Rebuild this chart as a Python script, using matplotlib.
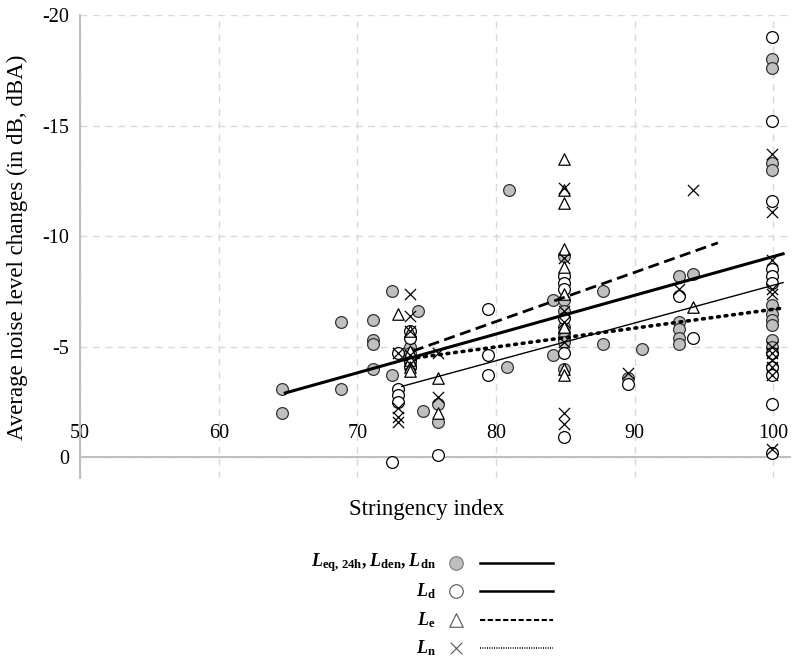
import numpy as np
import matplotlib.pyplot as plt

plt.rcParams['font.family'] = 'Liberation Serif'
plt.rcParams['axes.unicode_minus'] = False
plt.rcParams['mathtext.fontset'] = 'custom'
plt.rcParams['mathtext.rm'] = 'Liberation Serif'
plt.rcParams['mathtext.it'] = 'Liberation Serif:italic'
plt.rcParams['mathtext.bf'] = 'Liberation Serif:bold'
plt.rcParams['mathtext.bfit'] = 'Liberation Serif:bold:italic'

# Leq,24h / Lden / Ldn
leq_x = [64.6, 64.6, 68.8, 68.8, 71.1, 71.1, 71.1, 71.1, 72.5, 72.5, 74.4, 73.8, 73.8, 73.8,
         74.7, 75.8, 75.8, 80.9, 80.8, 84.1, 84.1,
         84.9, 84.9, 84.9, 84.9, 84.9, 84.9, 84.9, 84.9,
         87.7, 87.7, 89.5, 90.5, 93.2, 94.2, 93.2, 93.2, 93.2, 93.2,
         99.9, 99.9, 99.9, 99.9, 99.9, 99.9, 99.9, 99.9, 99.9, 99.9]
leq_y = [-3.1, -2.0, -6.1, -3.1, -6.2, -5.3, -5.1, -4.0, -7.5, -3.7, -6.6, -5.0, -4.7, -4.3,
         -2.1, -2.4, -1.6, -12.1, -4.1, -4.6, -7.1,
         -9.1, -7.1, -6.6, -5.9, -5.6, -5.4, -5.2, -4.0,
         -7.5, -5.1, -3.6, -4.9, -8.2, -8.3, -6.1, -5.8, -5.4, -5.1,
         -18.0, -17.6, -13.3, -13.0, -6.9, -6.5, -6.2, -6.0, -5.3, -5.0]

# Ld
ld_x = [72.5, 75.8, 72.9, 72.9, 72.9, 72.9, 73.8, 73.8, 73.8, 73.8,
        79.4, 79.4, 79.4, 84.9, 84.9, 84.9, 84.9, 84.9, 84.9,
        89.5, 93.2, 94.2,
        99.9, 99.9, 99.9, 99.9, 99.9, 99.9, 99.9, 99.9, 99.9, 99.9, 99.9]
ld_y = [0.2, -0.1, -4.7, -3.1, -2.8, -2.5, -5.7, -5.4, -4.4, -4.1,
        -6.7, -4.6, -3.7, -8.2, -7.9, -7.6, -6.3, -4.7, -0.9,
        -3.3, -7.3, -5.4,
        -19.0, -15.2, -11.6, -8.5, -8.2, -7.9, -4.7, -4.1, -3.7, -2.4, -0.2]

# Le
le_x = [72.9, 73.8, 73.8, 73.8, 73.8, 73.8, 75.8, 75.8,
        84.9, 84.9, 84.9, 84.9, 84.9, 84.9, 84.9, 84.9, 84.9, 94.2]
le_y = [-6.5, -5.7, -4.8, -4.4, -4.1, -3.9, -3.6, -2.0,
        -13.5, -12.1, -11.5, -9.4, -8.6, -7.4, -5.9, -4.0, -3.7, -6.8]

# Ln
ln_x = [73.8, 73.8, 73.8, 73.8, 73.8, 72.9, 72.9, 72.9, 72.9, 75.8, 75.8,
        84.9, 84.9, 84.9, 84.9, 84.9, 84.9, 84.9,
        89.5, 93.2, 94.2,
        99.9, 99.9, 99.9, 99.9, 99.9, 99.9, 99.9, 99.9, 99.9, 99.9, 99.9]
ln_y = [-7.4, -6.4, -5.7, -4.6, -4.2, -4.7, -2.2, -1.8, -1.6, -4.7, -2.7,
        -12.2, -9.0, -6.6, -6.1, -5.2, -2.0, -1.5,
        -3.8, -7.6, -12.1,
        -13.7, -11.1, -8.9, -7.6, -7.4, -5.0, -4.7, -4.4, -4.1, -3.7, -0.35]

# linear trend lines: slope, intercept, x range
trend_slope = [-0.1755, -0.1709, -0.2227, -0.0852]
trend_intercept = [8.47, 9.31, 11.68, 1.83]
trend_start = [64.8, 73.2, 74.0, 74.3]
trend_end = [100.7, 100.7, 96.0, 100.7]

labels = [r'$\mathbfit{L}_{\mathbf{eq,\,24h}}\mathbf{,}\;\mathbfit{L}_{\mathbf{den}}\mathbf{,}\;\mathbfit{L}_{\mathbf{dn}}$',
          r'$\mathbfit{L}_{\mathbf{d}}$',
          r'$\mathbfit{L}_{\mathbf{e}}$',
          r'$\mathbfit{L}_{\mathbf{n}}$']

xs = [leq_x, ld_x, le_x, ln_x]
ys = [leq_y, ld_y, le_y, ln_y]
markers = ['o', 'o', '^', 'x']
faces = ['#bfbfbf', 'white', 'white', 'black']
edges = ['#333333', 'black', 'black', 'black']
line_styles = ['-', '-', (0, (4, 2)), (0, (0.5, 1.6))]
line_widths = [2.2, 1.0, 2.0, 2.6]

fig = plt.figure(figsize=(7.94, 6.64), dpi=100)
ax = fig.add_axes([0.1008, 0.28, 0.8942, 0.697])

for i in range(4):
    if markers[i] == 'x':
        ax.scatter(xs[i], ys[i], marker='x', s=65, c='black', linewidths=0.9, zorder=3)
    else:
        ax.scatter(xs[i], ys[i], marker=markers[i], s=72 if markers[i] == 'o' else 68,
                   facecolors=faces[i], edgecolors=edges[i], linewidths=0.9, zorder=3)

for i in range(4):
    tx = np.array([trend_start[i], trend_end[i]])
    ty = trend_slope[i] * tx + trend_intercept[i]
    ax.plot(tx, ty, color='black', linestyle=line_styles[i], lw=line_widths[i],
            dash_capstyle='round' if i == 3 else 'butt', zorder=4)

ax.set_xlim(50, 101.2)
ax.set_ylim(0.95, -20)
ax.set_xticks([50, 60, 70, 80, 90, 100])
ax.set_yticks([-20, -15, -10, -5, 0])
ax.grid(True, color='#d9d9d9', linestyle=(0, (5, 4)), lw=1)
ax.set_axisbelow(True)

# x axis drawn at y = 0, labels above it
ax.xaxis.tick_top()
ax.spines['top'].set_position(('data', 0))
ax.spines['top'].set_color('#bfbfbf')
ax.spines['top'].set_linewidth(1.5)
ax.spines['bottom'].set_visible(False)
ax.spines['right'].set_visible(False)
ax.spines['left'].set_color('#bfbfbf')
ax.spines['left'].set_linewidth(1.5)
ax.tick_params(axis='x', length=0, pad=10, labelsize=14.5)
ax.tick_params(axis='y', length=0, pad=8, labelsize=14.5)

fig.text(0.0214, 0.628, 'Average noise level changes (in dB, dBA)', rotation=90,
         ha='center', va='center', fontsize=16.5)
fig.text(0.537, 0.232, 'Stringency index', ha='center', va='center', fontsize=16.5)

# legend: label, marker, line per row
lg = fig.add_axes([0, 0, 1, 1], facecolor='none')
lg.set_xlim(0, 794)
lg.set_ylim(664, 0)
lg.axis('off')
rows = [563, 591, 620, 648]
leg_styles = ['-', '-', (0, (2.5, 1.2)), (0, (0.6, 0.8))]
leg_widths = [1.8, 1.8, 1.5, 1.2]
for i in range(4):
    lg.text(436, rows[i], labels[i], ha='right', va='center', fontsize=13)
    if markers[i] == 'x':
        lg.scatter([456], [rows[i]], marker='x', s=70, c='#555555', linewidths=0.8)
    else:
        lg.scatter([456], [rows[i]], marker=markers[i], s=95,
                   facecolors=faces[i], edgecolors='#555555' if i else '#777777', linewidths=0.8)
    lg.plot([480, 553], [rows[i], rows[i]], color='black', linestyle=leg_styles[i], lw=leg_widths[i])

fig.savefig('out.png', dpi=100)
